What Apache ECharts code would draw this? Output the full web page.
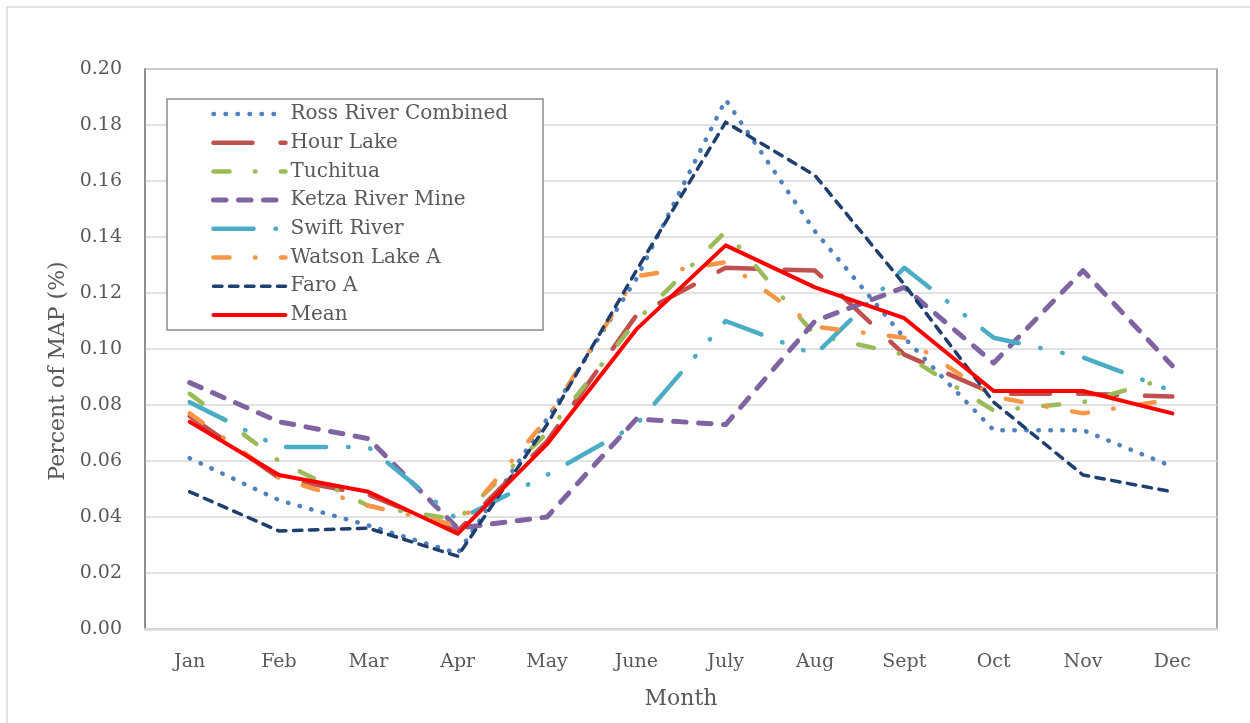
<!DOCTYPE html>
<html>
<head>
<meta charset="utf-8">
<title>Percent of MAP by month</title>
<script src="https://cdn.jsdelivr.net/npm/echarts@6/dist/echarts.min.js"></script>
<style>
  html, body { margin: 0; padding: 0; background: #fff; }
  #chart { width: 1250px; height: 723px; }
</style>
</head>
<body>
<div id="chart"></div>
<script>
// months along the x axis
const months = ['Jan', 'Feb', 'Mar', 'Apr', 'May', 'June', 'July', 'Aug', 'Sept', 'Oct', 'Nov', 'Dec'];

// values (fraction of MAP)
const rossRiver = [0.061, 0.046, 0.037, 0.027, 0.075, 0.125, 0.189, 0.142, 0.104, 0.071, 0.071, 0.058];
const hourLake  = [0.076, 0.054, 0.048, 0.035, 0.067, 0.112, 0.129, 0.128, 0.098, 0.084, 0.084, 0.083];
const tuchitua  = [0.084, 0.060, 0.044, 0.039, 0.070, 0.110, 0.142, 0.105, 0.098, 0.078, 0.081, 0.090];
const ketza     = [0.088, 0.074, 0.068, 0.036, 0.040, 0.075, 0.073, 0.110, 0.122, 0.095, 0.128, 0.094];
const swift     = [0.081, 0.065, 0.065, 0.039, 0.055, 0.073, 0.110, 0.098, 0.129, 0.104, 0.097, 0.085];
const watson    = [0.077, 0.054, 0.044, 0.037, 0.075, 0.126, 0.131, 0.108, 0.104, 0.083, 0.077, 0.082];
const faro      = [0.049, 0.035, 0.036, 0.026, 0.073, 0.128, 0.181, 0.162, 0.123, 0.081, 0.055, 0.049];
const meanMAP   = [0.074, 0.055, 0.049, 0.034, 0.066, 0.107, 0.137, 0.122, 0.111, 0.085, 0.085, 0.077];

const yTicks = [0, 0.02, 0.04, 0.06, 0.08, 0.10, 0.12, 0.14, 0.16, 0.18, 0.20];

const FONT = '"DejaVu Serif", serif';
const TXT = '#595959';

function line(name, data, color, width, dash) {
  return {
    name: name,
    type: 'line',
    data: data,
    symbol: 'none',
    animation: false,
    lineStyle: { color: color, width: width, type: dash, cap: 'round', join: 'round' },
    itemStyle: { color: color }
  };
}

const series = [
  line('Ross River Combined', rossRiver, '#4F81BD', 4.5, [0.5, 11.5]),
  line('Hour Lake', hourLake, '#C0504D', 4.5, [39, 28]),
  line('Tuchitua', tuchitua, '#9BBB59', 4.5, [16, 25.5, 0.5, 25.5]),
  line('Ketza River Mine', ketza, '#8064A2', 5, [12.5, 12.5]),
  line('Swift River', swift, '#4BACC6', 4.5, [40, 22, 0.5, 22, 0.5, 22]),
  line('Watson Lake A', watson, '#F79646', 4.5, [16, 25.5, 0.5, 25.5]),
  line('Faro A', faro, '#1F3F6E', 3.5, [8.5, 7.5]),
  line('Mean', meanMAP, '#FF0000', 4, 'solid')
];

// legend samples keep the same stroke width as the series
const legendItems = series.map(s => ({
  name: s.name,
  lineStyle: { width: s.lineStyle.width, type: s.lineStyle.type, color: s.lineStyle.color, cap: 'round' }
}));

const chart = echarts.init(document.getElementById('chart'));
chart.setOption({
  backgroundColor: '#fff',
  animation: false,
  graphic: [{
    type: 'rect', silent: true, z: -10,
    shape: { x: 7, y: 7, width: 1260, height: 740 },
    style: { fill: null, stroke: '#d9d9d9', lineWidth: 1.5 }
  }],
  grid: {
    left: 145, right: 33, top: 69, bottom: 94,
    show: true, borderColor: '#8c8c8c', borderWidth: 1.5, backgroundColor: 'transparent'
  },
  legend: {
    orient: 'vertical',
    left: 167, top: 99,
    padding: [4, 35, 4, 44],
    borderColor: '#8c8c8c', borderWidth: 1.5,
    backgroundColor: '#fff',
    itemWidth: 72, itemHeight: 14, itemGap: 6.7,
    itemStyle: { opacity: 0 },
    data: legendItems,
    textStyle: { fontFamily: FONT, fontSize: 20, color: TXT, lineHeight: 22 }
  },
  xAxis: {
    type: 'category',
    data: months,
    boundaryGap: true,
    name: 'Month',
    nameLocation: 'middle',
    nameGap: 59,
    nameTextStyle: { fontFamily: FONT, fontSize: 22, color: TXT },
    axisLine: { show: true, lineStyle: { color: '#d9d9d9', width: 2.5 } },
    axisTick: { show: false },
    axisLabel: { fontFamily: FONT, fontSize: 19, color: TXT, margin: 24 },
    splitLine: { show: false }
  },
  yAxis: {
    type: 'value',
    min: yTicks[0], max: yTicks[yTicks.length - 1], interval: 0.02,
    name: 'Percent of MAP (%)',
    nameLocation: 'middle',
    nameRotate: 90,
    nameGap: 70,
    nameTextStyle: { fontFamily: FONT, fontSize: 22, color: TXT, padding: [0, 44, 0, 0] },
    axisLine: { show: true, lineStyle: { color: '#878787', width: 1.5 } },
    axisTick: { show: false },
    axisLabel: { fontFamily: FONT, fontSize: 19, color: TXT, margin: 23,
      formatter: v => v.toFixed(2) },
    splitLine: { lineStyle: { color: '#d9d9d9', width: 1.5 } }
  },
  series: series
});
</script>
</body>
</html>
